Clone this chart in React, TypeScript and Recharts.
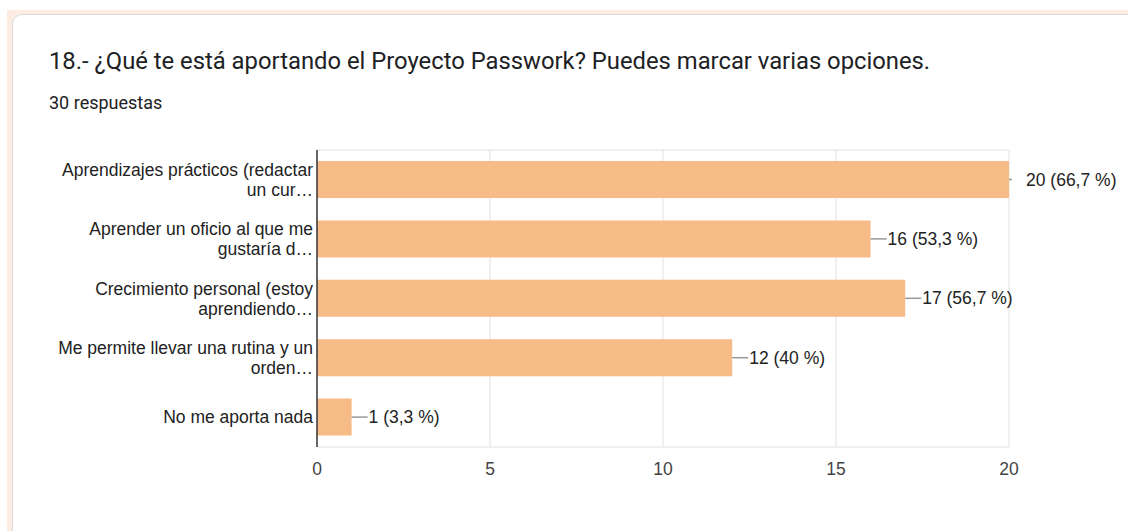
import React from "react";
import { BarChart, Bar, XAxis, YAxis, CartesianGrid, LabelList } from "recharts";

const categories = [
  ["Aprendizajes prácticos (redactar", "un cur…"],
  ["Aprender un oficio al que me", "gustaría d…"],
  ["Crecimiento personal (estoy", "aprendiendo…"],
  ["Me permite llevar una rutina y un", "orden…"],
  ["No me aporta nada"],
];
const counts = [20, 16, 17, 12, 1];
const percents = ["66,7 %", "53,3 %", "56,7 %", "40 %", "3,3 %"];
const xTicks = [0, 5, 10, 15, 20];

const data = categories.map((c, i) => ({
  name: c.join("\n"),
  lines: c,
  value: counts[i],
  label: `${counts[i]} (${percents[i]})`,
}));

const maxValue = Math.max(...counts);
const FONT = "'Liberation Sans', Arial, sans-serif";
const FS = 17.5;

const YTick = (props: any) => {
  const { x, y, payload } = props;
  const lines: string[] = String(payload.value).split("\n");
  const lh = 20;
  const start = y - ((lines.length - 1) * lh) / 2;
  return (
    <g>
      {lines.map((l, i) => (
        <text
          key={i}
          x={x + 4}
          y={start + i * lh}
          textAnchor="end"
          dominantBaseline="central"
          fontFamily={FONT}
          fontSize={FS}
          fill="#222222"
        >
          {l}
        </text>
      ))}
    </g>
  );
};

const ValueLabel = (props: any) => {
  const { x, y, width, height, index } = props;
  const d = data[index];
  const ex = x + width;
  const cy = y + height / 2;
  const isMax = d.value === maxValue;
  const lineEnd = isMax ? ex + 3 : ex + 16;
  return (
    <g>
      <line x1={ex} y1={cy} x2={lineEnd} y2={cy} stroke="#999999" strokeWidth={1.5} />
      <text
        x={ex + 17}
        y={cy}
        dominantBaseline="central"
        fontFamily={FONT}
        fontSize={FS}
        fill="#222222"
      >
        {d.label}
      </text>
    </g>
  );
};

export default function App() {
  return (
    <div
      style={{
        position: "absolute",
        left: 0,
        top: 0,
        width: 1128,
        height: 531,
        overflow: "hidden",
        background: "#ffffff",
      }}
    >
      <div
        style={{
          position: "absolute",
          left: 7,
          top: 10,
          width: 1200,
          height: 600,
          background: "#fcece2",
        }}
      />
      <div
        style={{
          position: "absolute",
          left: 12,
          top: 14,
          width: 1200,
          height: 600,
          background: "#ffffff",
          border: "1px solid #dadce0",
          borderRadius: 10,
        }}
      />
      <div
        style={{
          position: "absolute",
          left: 49,
          top: 46,
          fontFamily: "Roboto, 'Open Sans', sans-serif",
          fontSize: 23.8,
          color: "#202124",
          whiteSpace: "nowrap",
          lineHeight: "30px",
        }}
      >
        18.- ¿Qué te está aportando el Proyecto Passwork? Puedes marcar varias opciones.
      </div>
      <div
        style={{
          position: "absolute",
          left: 49,
          top: 92,
          fontFamily: "Roboto, 'Open Sans', sans-serif",
          fontSize: 18,
          color: "#202124",
          whiteSpace: "nowrap",
          lineHeight: "22px",
        }}
      >
        30 respuestas
      </div>
      <div style={{ position: "absolute", left: 0, top: 0 }}>
        <BarChart
          width={1128}
          height={531}
          data={data}
          layout="vertical"
          margin={{ top: 150, right: 119, left: 0, bottom: 54 }}
        >
          <CartesianGrid
            stroke="#ebebeb"
            strokeWidth={1.5}
            verticalCoordinatesGenerator={(p: any) => {
              const { offset } = p;
              return xTicks.slice(1).map((t) => offset.left + (t / 20) * offset.width);
            }}
            horizontalCoordinatesGenerator={(p: any) => {
              const { offset } = p;
              return [offset.top, offset.top + offset.height];
            }}
          />
          <XAxis
            type="number"
            domain={[0, 20]}
            ticks={xTicks}
            axisLine={false}
            tickLine={false}
            height={30}
            tick={{ fontFamily: FONT, fontSize: FS, fill: "#444444", dy: 8 }}
          />
          <YAxis
            type="category"
            dataKey="name"
            width={317}
            axisLine={{ stroke: "#333333", strokeWidth: 1.5 }}
            tickLine={false}
            tick={<YTick />}
            interval={0}
          />
          <Bar dataKey="value" fill="#f6bb86" barSize={37} isAnimationActive={false}>
            <LabelList dataKey="value" content={<ValueLabel />} />
          </Bar>
        </BarChart>
      </div>
    </div>
  );
}
